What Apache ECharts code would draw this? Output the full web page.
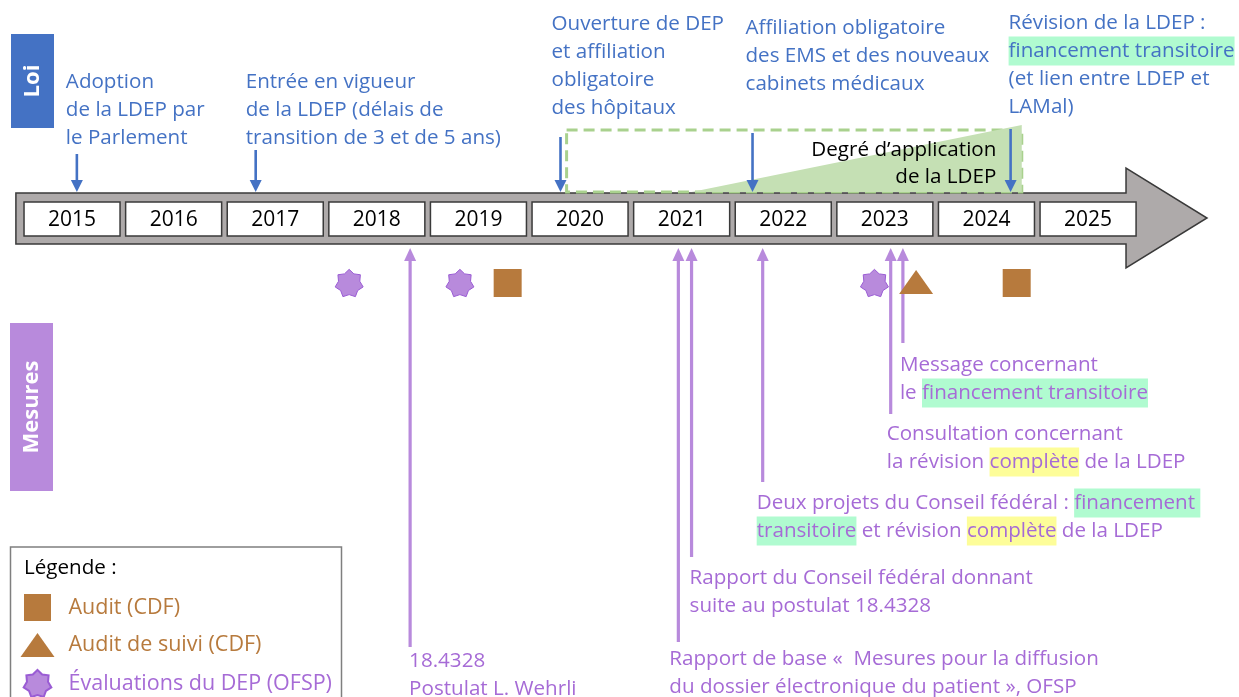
<!DOCTYPE html>
<html><head><meta charset="utf-8">
<script src="https://cdn.jsdelivr.net/npm/echarts@6/dist/echarts.min.js"></script>
<style>html,body{margin:0;padding:0;background:#fff}#c{width:1239px;height:697px}</style>
</head><body><div id="c"></div>
<script>
// ---------- DATA ----------
const years = [2015, 2016, 2017, 2018, 2019, 2020, 2021, 2022, 2023, 2024, 2025];

const lawDates = [2015.54, 2017.30, 2020.30, 2022.19, 2024.73];
const lawLabels = [
  ['Adoption', 'de la LDEP par', 'le Parlement'],
  ['Entrée en vigueur', 'de la LDEP (délais de', 'transition de 3 et de 5 ans)'],
  ['Ouverture de DEP', 'et affiliation', 'obligatoire', 'des hôpitaux'],
  ['Affiliation obligatoire', 'des EMS et des nouveaux', 'cabinets médicaux'],
  ['Révision de la LDEP :', '{g|financement transitoire}', '(et lien entre LDEP et', 'LAMal)']
];

const measureDates = [2018.82, 2021.46, 2021.59, 2022.29, 2023.55, 2023.67];
const measureLabels = [
  ['18.4328', 'Postulat L. Wehrli'],
  ['Rapport de base «\u00a0 Mesures pour la diffusion', 'du dossier électronique du patient », OFSP'],
  ['Rapport du Conseil fédéral donnant', 'suite au postulat 18.4328'],
  ['Deux projets du Conseil fédéral : {g|financement }', '{g|transitoire} et révision {y|complète} de la LDEP'],
  ['Consultation concernant', 'la révision {y|complète} de la LDEP'],
  ['Message concernant', 'le {g|financement transitoire}']
];

const evaluationDates = [2018.22, 2019.31, 2023.39];   // Évaluations du DEP (OFSP)
const auditDates = [2019.78, 2024.79];                  // Audit (CDF)
const followUpAuditDates = [2023.80];                   // Audit de suivi (CDF)

const applicationPeriod = [2020.36, 2021.59, 2024.84];  // start, ramp start, end
const applicationLabel = ['Degré d\u2019application', 'de la LDEP'];

const legendNames = ['Audit (CDF)', 'Audit de suivi (CDF)', 'Évaluations du DEP (OFSP)'];

// ---------- LAYOUT / STYLE ----------
const FONT = '"Open Sans", Lato, sans-serif';
const LAW = '#4472C4', MES_LINE = '#B88ADC', MES_TEXT = '#A66BD6', BROWN = '#B77A3D';
const GREEN_HL = '#B0FBD0', YELLOW_HL = '#FDFD99';
const TXT = 20.6, LH = 28;

// vertical layout rows (y axis runs top->bottom)
const BAR_TOP = 193, BAR_BOT = 244, HEAD_TOP = 168, HEAD_BOT = 268;
const BOX_TOP = 202, BOX_BOT = 236;
const LAW_TIP = 192, MES_TIP = 248, MARKER_ROW = 283;
const APP_TOP = 130, APP_PEAK = 125;

const lawLayout = [
  {arrowTop: 154, textTop: 68, dx: -11},
  {arrowTop: 150, textTop: 68, dx: -10},
  {arrowTop: 137, textTop: 10, dx: -9},
  {arrowTop: 133, textTop: 14, dx: -7},
  {arrowTop: 129, textTop: 9, dx: -2}
];
const mesLayout = [
  {bottom: 647, textTop: 647, dx: -1},
  {bottom: 642, textTop: 645, dx: -9},
  {bottom: 557, textTop: 564, dx: -2},
  {bottom: 482, textTop: 489, dx: -6},
  {bottom: 414, textTop: 420, dx: -4},
  {bottom: 343, textTop: 351, dx: -3}
];

const rich = {
  g: {backgroundColor: GREEN_HL, height: 29, lineHeight: LH},
  y: {backgroundColor: YELLOW_HL, height: 29, lineHeight: LH}
};

function starPath(n, ri) {
  const p = [];
  for (let i = 0; i < 2 * n; i++) {
    const r = i % 2 ? ri : 1;
    const a = -Math.PI / 2 + i * Math.PI / n;
    p.push((i ? 'L' : 'M') + (50 + 50 * r * Math.cos(a)).toFixed(2) + ' ' + (50 + 50 * r * Math.sin(a)).toFixed(2));
  }
  return 'path://' + p.join(' ') + 'Z';
}
const STAR = starPath(7, 0.76);
const SQUARE = 'path://M0 0H10V10H0Z';
const TRIANGLE = 'path://M0 24L17 0L34 24Z';

const chart = echarts.init(document.getElementById('c'));

const option = {
  animation: false,
  grid: {left: 0, right: 0, top: 0, bottom: 0},
  xAxis: {type: 'value', min: 2014.7835, max: 2026.978, show: false},
  yAxis: {type: 'value', min: 0, max: 697, inverse: true, show: false},
  legend: {
    orient: 'vertical', left: 20.5, top: 594, height: 200, padding: 0,
    itemWidth: 34, itemHeight: 27, itemGap: 12,
    selectedMode: false,
    textStyle: {fontFamily: FONT, fontSize: 21.5, padding: [0, 0, 0, 9]},
    data: [
      {name: legendNames[0], icon: SQUARE, textStyle: {color: BROWN}},
      {name: legendNames[1], icon: TRIANGLE, textStyle: {color: BROWN}},
      {name: legendNames[2], icon: STAR, textStyle: {color: MES_TEXT}}
    ]
  },
  graphic: [
    {type: 'rect', left: 11, top: 34, shape: {width: 43, height: 94}, style: {fill: LAW}},
    {type: 'text', x: 33, y: 81, rotation: Math.PI / 2,
     style: {text: 'Loi', fill: '#fff', font: `bold 22px ${FONT}`, align: 'center', verticalAlign: 'middle'}},
    {type: 'rect', left: 10, top: 323, shape: {width: 43, height: 168}, style: {fill: MES_LINE}},
    {type: 'text', x: 32, y: 407, rotation: Math.PI / 2,
     style: {text: 'Mesures', fill: '#fff', font: `bold 22px ${FONT}`, align: 'center', verticalAlign: 'middle'}},
    {type: 'rect', shape: {x: 10.5, y: 547, width: 331, height: 170}, style: {fill: 'none', stroke: '#7F7F7F', lineWidth: 1.5}},
    {type: 'text', x: 24, y: 568, style: {text: 'Légende :', fill: '#000', font: `${TXT}px ${FONT}`, verticalAlign: 'middle'}}
  ],
  series: [
    // timeline arrow
    {
      type: 'custom', silent: true,
      data: [[years[0], years[years.length - 1]]],
      renderItem: (params, api) => {
        const x0 = api.coord([api.value(0) - 0.06, 0])[0];
        const xb = api.coord([api.value(1) + 0.866, 0])[0];
        const xt = api.coord([api.value(1) + 1.663, 0])[0];
        const y = v => api.coord([0, v])[1];
        return {
          type: 'polygon',
          shape: {points: [[x0, y(BAR_TOP)], [xb, y(BAR_TOP)], [xb, y(HEAD_TOP)], [xt, y((HEAD_TOP + HEAD_BOT) / 2)],
                           [xb, y(HEAD_BOT)], [xb, y(BAR_BOT)], [x0, y(BAR_BOT)]]},
          style: {fill: '#AEAAAA', stroke: '#3A3A3A', lineWidth: 1.5}
        };
      }
    },
    // degree of application
    {
      type: 'custom', silent: true,
      data: [applicationPeriod],
      renderItem: (params, api) => {
        const s = api.coord([api.value(0), APP_TOP]);
        const r = api.coord([api.value(1), LAW_TIP]);
        const e = api.coord([api.value(2), APP_PEAK]);
        const eb = api.coord([api.value(2), LAW_TIP]);
        const et = api.coord([api.value(2), APP_TOP]);
        const txt = api.coord([api.value(2) - 0.25, 137]);
        return {type: 'group', children: [
          {type: 'rect', shape: {x: s[0], y: s[1], width: et[0] - s[0], height: eb[1] - s[1]},
           style: {fill: 'none', stroke: '#A9D18E', lineWidth: 3, lineDash: [11, 6]}},
          {type: 'polygon', shape: {points: [[r[0], r[1]], [e[0], e[1]], [eb[0], eb[1]]]},
           style: {fill: '#C5E0B4'}},
          {type: 'text', x: txt[0], y: txt[1],
           style: {text: applicationLabel.join('\n'), fill: '#000', font: `${TXT}px ${FONT}`, lineHeight: 27,
                   align: 'right', verticalAlign: 'top'}}
        ]};
      }
    },
    // year boxes
    {
      type: 'custom', silent: true,
      data: years.map(y => [y, 0]),
      renderItem: (params, api) => {
        const a = api.coord([api.value(0) + 0.02, BOX_TOP]);
        const b = api.coord([api.value(0) + 0.965, BOX_BOT]);
        return {type: 'group', children: [
          {type: 'rect', shape: {x: a[0], y: a[1], width: b[0] - a[0], height: b[1] - a[1]},
           style: {fill: '#fff', stroke: '#3A3A3A', lineWidth: 1.5}},
          {type: 'text', x: (a[0] + b[0]) / 2, y: (a[1] + b[1]) / 2 + 1,
           style: {text: String(years[params.dataIndex]), fill: '#000', font: `21px ${FONT}`,
                   align: 'center', verticalAlign: 'middle'}}
        ]};
      }
    },
    // law events
    {
      type: 'custom', silent: true,
      data: lawDates.map(d => [d, 0]),
      renderItem: (params, api) => {
        const i = params.dataIndex, L = lawLayout[i], t = api.value(0);
        const top = api.coord([t, L.arrowTop]), tip = api.coord([t, LAW_TIP]);
        const tt = api.coord([t, L.textTop]);
        return {type: 'group', children: [
          {type: 'line', shape: {x1: top[0], y1: top[1], x2: tip[0], y2: tip[1] - 8},
           style: {stroke: LAW, lineWidth: 2.6}},
          {type: 'polygon', shape: {points: [[tip[0] - 6, tip[1] - 12], [tip[0] + 6, tip[1] - 12], [tip[0], tip[1]]]},
           style: {fill: LAW}},
          {type: 'text', x: tt[0] + L.dx, y: tt[1],
           style: {text: lawLabels[i].join('\n'), fill: LAW, font: `${TXT}px ${FONT}`, lineHeight: LH,
                   align: 'left', verticalAlign: 'top', rich: rich}}
        ]};
      }
    },
    // measures
    {
      type: 'custom', silent: true,
      data: measureDates.map(d => [d, 0]),
      renderItem: (params, api) => {
        const i = params.dataIndex, M = mesLayout[i], t = api.value(0);
        const tip = api.coord([t, MES_TIP]), bot = api.coord([t, M.bottom]);
        const tt = api.coord([t, M.textTop]);
        return {type: 'group', children: [
          {type: 'line', shape: {x1: tip[0], y1: tip[1] + 10, x2: bot[0], y2: bot[1]},
           style: {stroke: MES_LINE, lineWidth: 3.2}},
          {type: 'polygon', shape: {points: [[tip[0] - 6, tip[1] + 13], [tip[0] + 6, tip[1] + 13], [tip[0], tip[1]]]},
           style: {fill: MES_LINE}},
          {type: 'text', x: tt[0] + M.dx, y: tt[1],
           style: {text: measureLabels[i].join('\n'), fill: MES_TEXT, font: `${TXT}px ${FONT}`, lineHeight: LH,
                   align: 'left', verticalAlign: 'top', rich: rich}}
        ]};
      }
    },
    {
      name: legendNames[0], type: 'scatter', silent: true,
      symbol: SQUARE, symbolSize: [28, 28], symbolKeepAspect: true,
      itemStyle: {color: BROWN, opacity: 1},
      data: auditDates.map(d => [d, MARKER_ROW])
    },
    {
      name: legendNames[1], type: 'scatter', silent: true,
      symbol: 'triangle', symbolSize: [34, 24],
      itemStyle: {color: BROWN, opacity: 1},
      data: followUpAuditDates.map(d => [d, MARKER_ROW - 1])
    },
    {
      name: legendNames[2], type: 'scatter', silent: true,
      symbol: STAR, symbolSize: [28, 28], symbolKeepAspect: true,
      itemStyle: {color: MES_LINE, borderColor: '#9A5CD4', borderWidth: 1, opacity: 1},
      data: evaluationDates.map(d => [d, MARKER_ROW])
    }
  ]
};
chart.setOption(option);
</script>
</body></html>
